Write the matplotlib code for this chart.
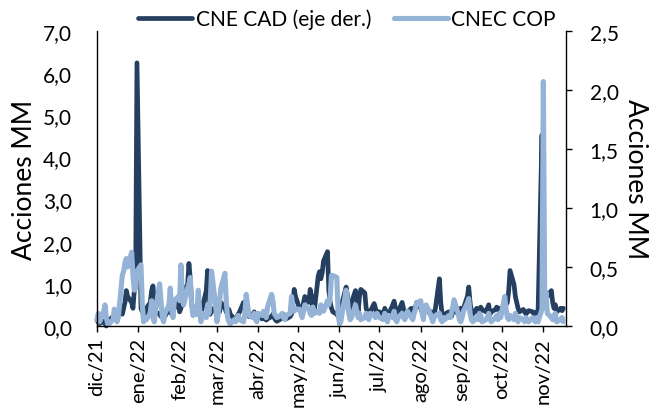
import matplotlib
matplotlib.use("Agg")
import matplotlib.pyplot as plt
import pandas as pd

plt.rcParams.update({
    "font.family": ["Lato", "DejaVu Sans"],
    "font.size": 15,
    "axes.linewidth": 1.0,
})

# daily values (business days), dic/21 .. nov/22
START = "2021-12-01"

# CNEC COP, left axis (Acciones MM)
cnec_cop = [
    # dic
    0.15, 0.3, 0.1, 0.35, 0.5, 0.2, 0.05, 0.05, 0.15, 0.4, 0.35, 0.1, 0.2,
    1.2, 1.3, 1.5, 1.6, 1.4, 1.75, 1.2, 0.85, 0.9, 1.3,
    # ene
    1.45, 0.5, 0.1, 0.2, 0.15, 0.3, 0.6, 0.2, 0.1, 0.4, 1.0, 0.6, 0.2, 0.1, 0.3,
    0.5, 0.9, 0.4, 0.2, 0.6, 0.7,
    # feb
    0.6, 1.45, 0.7, 0.5, 0.9, 1.0, 1.15, 0.5, 0.25, 0.3, 0.85, 0.4, 0.1, 0.3,
    0.2, 0.5, 0.3, 0.6, 1.3, 0.5,
    # mar
    0.1, 0.3, 0.6, 0.9, 1.25, 0.6, 0.2, 0.1, 0.05, 0.15, 0.1, 0.2, 0.25, 0.15,
    0.1, 0.3, 0.75, 0.5, 0.25, 0.2, 0.3, 0.15, 0.1,
    # abr
    0.3, 0.25, 0.35, 0.3, 0.2, 0.45, 0.75, 0.6, 0.3, 0.25, 0.2, 0.25, 0.3, 0.2,
    0.15, 0.25, 0.3, 0.7, 0.5, 0.35, 0.4,
    # may
    0.4, 0.3, 0.2, 0.35, 0.5, 0.4, 0.3, 0.25, 0.45, 0.3, 0.35, 0.3, 0.5, 0.4,
    0.35, 0.6, 0.5, 0.7, 1.2, 1.2, 1.15, 0.3,
    # jun
    0.05, 0.1, 0.3, 0.85, 0.6, 0.3, 0.15, 0.2, 0.5, 0.35, 0.2, 0.3, 0.15, 0.2,
    0.3, 0.25, 0.15, 0.3, 0.25, 0.2, 0.3, 0.25,
    # jul
    0.2, 0.15, 0.3, 0.2, 0.1, 0.25, 0.2, 0.35, 0.15, 0.1, 0.2, 0.3, 0.2, 0.15,
    0.25, 0.35, 0.2, 0.15, 0.3, 0.4, 0.55,
    # ago
    0.6, 0.3, 0.15, 0.45, 0.5, 0.3, 0.2, 0.1, 0.2, 0.25, 0.3, 0.15, 0.1, 0.2,
    0.15, 0.25, 0.2, 0.3, 0.45, 0.62, 0.3, 0.15, 0.1,
    # sep
    0.2, 0.35, 0.55, 0.65, 0.3, 0.15, 0.1, 0.2, 0.15, 0.3, 0.25, 0.1, 0.15, 0.2,
    0.3, 0.15, 0.1, 0.2, 0.25, 0.15, 0.3, 0.2,
    # oct
    0.7, 0.4, 0.2, 0.15, 0.25, 0.15, 0.3, 0.2, 0.1, 0.2, 0.15, 0.1, 0.2, 0.15,
    0.1, 0.2, 0.15, 0.1, 0.2, 0.1, 0.4,
    # nov
    5.8, 0.6, 0.8, 0.3, 0.2, 0.15, 0.25, 0.3, 0.1, 0.15, 0.2, 0.1,
]

# CNE CAD, right axis (Acciones MM)
cne_cad = [
    # dic
    0.05, 0.03, 0.02, 0.04, 0.02, 0.0, 0.02, 0.05, 0.08, 0.06, 0.1, 0.07, 0.12,
    0.1, 0.15, 0.2, 0.3, 0.25, 0.2, 0.15, 0.3, 0.4, 2.23,
    # ene
    0.15, 0.12, 0.12, 0.1, 0.15, 0.2, 0.3, 0.34, 0.2, 0.12, 0.1, 0.08, 0.12,
    0.1, 0.08, 0.15, 0.12, 0.1, 0.2, 0.15, 0.2,
    # feb
    0.12, 0.15, 0.2, 0.3, 0.35, 0.53, 0.4, 0.2, 0.12, 0.1, 0.15, 0.2, 0.12,
    0.15, 0.3, 0.47, 0.2, 0.1, 0.15, 0.12,
    # mar
    0.1, 0.15, 0.12, 0.2, 0.15, 0.12, 0.1, 0.14, 0.1, 0.06, 0.05, 0.08, 0.1,
    0.12, 0.2, 0.18, 0.12, 0.1, 0.08, 0.1, 0.12, 0.08, 0.06,
    # abr
    0.08, 0.06, 0.1, 0.08, 0.05, 0.06, 0.08, 0.1, 0.07, 0.05, 0.04, 0.06, 0.08,
    0.1, 0.07, 0.06, 0.08, 0.1, 0.2, 0.31, 0.25,
    # may
    0.15, 0.12, 0.1, 0.2, 0.25, 0.2, 0.31, 0.25, 0.15, 0.12, 0.42, 0.46, 0.4,
    0.45, 0.55, 0.63, 0.3, 0.2, 0.15, 0.12, 0.1, 0.08,
    # jun
    0.08, 0.12, 0.2, 0.33, 0.25, 0.12, 0.1, 0.2, 0.3, 0.22, 0.12, 0.25, 0.31,
    0.28, 0.15, 0.12, 0.1, 0.12, 0.19, 0.15, 0.1, 0.12,
    # jul
    0.12, 0.1, 0.15, 0.12, 0.08, 0.1, 0.18, 0.21, 0.15, 0.1, 0.12, 0.2, 0.15,
    0.1, 0.08, 0.12, 0.15, 0.1, 0.12, 0.16, 0.2,
    # ago
    0.15, 0.12, 0.1, 0.16, 0.17, 0.1, 0.12, 0.08, 0.1, 0.15, 0.4, 0.2, 0.1,
    0.08, 0.1, 0.12, 0.1, 0.08, 0.12, 0.15, 0.1, 0.12, 0.15,
    # sep
    0.12, 0.15, 0.25, 0.33, 0.2, 0.12, 0.1, 0.15, 0.12, 0.1, 0.16, 0.14, 0.12,
    0.15, 0.18, 0.1, 0.12, 0.14, 0.16, 0.15, 0.12, 0.15,
    # oct
    0.15, 0.18, 0.2, 0.3, 0.47, 0.35, 0.25, 0.2, 0.15, 0.12, 0.14, 0.12, 0.1,
    0.12, 0.13, 0.12, 0.1, 0.11, 0.12, 0.1, 1.62,
    # nov
    0.35, 0.3, 0.28, 0.25, 0.3, 0.2, 0.15, 0.18, 0.12, 0.15, 0.13, 0.15,
]

month_starts = pd.date_range("2021-12-01", "2022-11-01", freq="MS")
month_labels = ["dic/21", "ene/22", "feb/22", "mar/22", "abr/22", "may/22",
                "jun/22", "jul/22", "ago/22", "sep/22", "oct/22", "nov/22"]

left_ticks = [0, 1, 2, 3, 4, 5, 6, 7]
right_ticks = [0, 0.5, 1.0, 1.5, 2.0, 2.5]

DARK = "#243f60"
LIGHT = "#95b3d7"

dates = pd.bdate_range(START, periods=len(cnec_cop))
dates_cad = pd.bdate_range(START, periods=len(cne_cad))

fig = plt.figure(figsize=(6.52, 4.14), dpi=100)
ax = fig.add_axes([97 / 652, 1 - 327 / 414, (566 - 97) / 652, (327 - 32) / 414])
ax2 = ax.twinx()

line_cad, = ax2.plot(dates_cad, cne_cad, color=DARK, lw=3.4, clip_on=False,
                     solid_joinstyle="round", solid_capstyle="round",
                     label="CNE CAD (eje der.)")
line_cop, = ax.plot(dates, cnec_cop, color=LIGHT, lw=3.7, clip_on=False,
                    solid_joinstyle="round", solid_capstyle="round",
                    label="CNEC COP")

# light series drawn over the dark one
ax.set_zorder(ax2.get_zorder() + 1)
ax.patch.set_visible(False)

ax.set_xlim(pd.Timestamp("2021-12-01"), pd.Timestamp("2022-11-18"))
ax.set_ylim(0, 7)
ax2.set_ylim(0, 2.5)

ax.set_yticks(left_ticks)
ax.set_yticklabels([f"{v:.1f}".replace(".", ",") for v in left_ticks])
ax2.set_yticks(right_ticks)
ax2.set_yticklabels([f"{v:.1f}".replace(".", ",") for v in right_ticks])

ax.set_xticks(month_starts)
ax.set_xticklabels(month_labels, rotation=90)

ax.tick_params(axis="y", length=0, pad=18, labelsize=15)
ax.tick_params(axis="x", direction="out", length=4, width=1.0, pad=4, labelsize=14.5)
ax2.tick_params(axis="y", direction="out", length=4, width=1.0, pad=13, labelsize=15)

for a in (ax, ax2):
    a.spines["top"].set_visible(False)
ax.spines["right"].set_visible(False)
ax2.spines["left"].set_visible(False)
ax2.spines["bottom"].set_visible(False)

ax.set_ylabel("Acciones MM", fontsize=19, labelpad=4)
ax2.set_ylabel("Acciones MM", fontsize=19, rotation=270, labelpad=21)

fig.legend(handles=[line_cad, line_cop], loc="center",
           bbox_to_anchor=(347 / 652, 1 - 20 / 414), ncol=2, frameon=False,
           fontsize=15, handlelength=2.6, handletextpad=0.15, columnspacing=1.1,
           borderaxespad=0, borderpad=0)

fig.savefig("out.png", dpi=100)
